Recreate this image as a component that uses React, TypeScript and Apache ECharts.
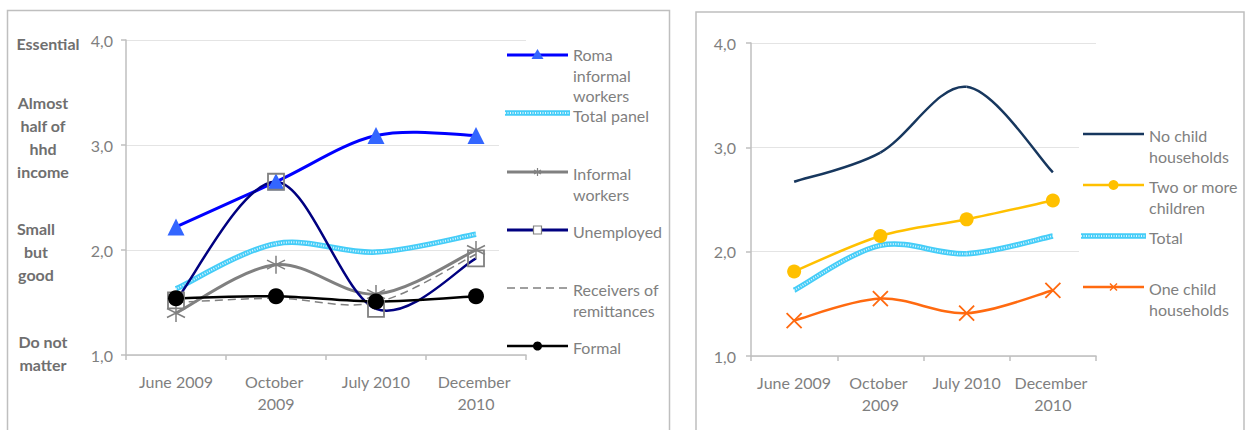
import React, { useEffect, useRef } from "react";
import * as echarts from "echarts";

const CATEGORIES = ["June 2009", "October 2009", "July 2010", "December 2010"];
const Y_MIN = 1;
const Y_MAX = 4;
const Y_STEP = 1;

// Left panel
const ROMA_INFORMAL = [2.22, 2.65, 3.09, 3.09];
const TOTAL_PANEL = [1.63, 2.06, 1.98, 2.15];
const INFORMAL_WORKERS = [1.4, 1.86, 1.58, 2.0];
const UNEMPLOYED = [1.52, 2.65, 1.44, 1.92];
const REMITTANCES = [1.5, 1.54, 1.5, 1.96];
const FORMAL = [1.54, 1.56, 1.51, 1.56];

// Right panel
const NO_CHILD = [2.67, 2.95, 3.58, 2.76];
const TWO_OR_MORE = [1.81, 2.15, 2.31, 2.49];
const TOTAL = [1.63, 2.06, 1.98, 2.15];
const ONE_CHILD = [1.34, 1.55, 1.41, 1.63];

const IMPORTANCE_LABELS = ["Essential", "Almost\nhalf of\nhhd\nincome", "Small\nbut\ngood", "Do not\nmatter"];
const LEFT_LEGEND = ["Roma\ninformal\nworkers", "Total panel", "Informal\nworkers", "Unemployed", "Receivers of\nremittances", "Formal"];
const RIGHT_LEGEND = ["No child\nhouseholds", "Two or more\nchildren", "Total", "One child\nhouseholds"];

const FONT = "Lato";
const TXT = "#7F7F7F";
const AXIS = "#BFBFBF";
const GRIDC = "#E4E4E4";

const C_ROMA = "#0000FF";
const C_ROMA_MK = "#3366FF";
const C_TOTAL = "#45CDF8";
const C_TOTAL_DOT = "#DDF5FE";
const C_GRAY = "#808080";
const C_NAVY = "#000080";
const C_BLACK = "#000000";
const C_NOCHILD = "#17375E";
const C_GOLD = "#FFC000";
const C_ORANGE = "#FF6A10";

const ASTERISK = "path://M8,0L8,16M1,4L15,12M1,12L15,4";
const XMARK = "path://M0,0L16,16M0,16L16,0";

function xAxisCfg(gridIndex: number) {
  return {
    type: "category",
    gridIndex,
    data: CATEGORIES,
    boundaryGap: true,
    axisLine: { lineStyle: { color: AXIS, width: 1.5 } },
    axisTick: { show: true, length: 5, lineStyle: { color: AXIS, width: 1.5 } },
    axisLabel: {
      color: TXT,
      fontFamily: FONT,
      fontSize: 16,
      lineHeight: 22,
      margin: 15,
      interval: 0,
      width: 84,
      overflow: "break",
    },
    splitLine: { show: false },
  };
}

function yAxisCfg(gridIndex: number, margin: number) {
  return {
    type: "value",
    gridIndex,
    min: Y_MIN,
    max: Y_MAX,
    interval: Y_STEP,
    axisLine: { show: true, lineStyle: { color: AXIS, width: 1.5 } },
    axisTick: { show: true, length: 5, lineStyle: { color: AXIS, width: 1.5 } },
    axisLabel: {
      color: TXT,
      fontFamily: FONT,
      fontSize: 16,
      margin,
      formatter: (v: number) => v.toFixed(1).replace(".", ","),
    },
    splitLine: { show: true, lineStyle: { color: GRIDC, width: 1 } },
  };
}

// Excel-like smoothed line (Catmull-Rom -> Bezier), drawn through the axes with api.coord
function curve(name: string, data: number[], axis: number, color: string, width: number, dash?: number[], z = 2) {
  return {
    type: "custom",
    name,
    xAxisIndex: axis,
    yAxisIndex: axis,
    data: data.map((v, i) => [i, v]),
    encode: { x: 0, y: 1 },
    z,
    silent: true,
    renderItem: (params: any, api: any) => {
      const i = params.dataIndex;
      const n = data.length;
      if (i >= n - 1) return null;
      const P = (k: number) => {
        const kk = Math.max(0, Math.min(n - 1, k));
        return api.coord([kk, data[kk]]);
      };
      const p0 = P(i - 1), p1 = P(i), p2 = P(i + 1), p3 = P(i + 2);
      return {
        type: "bezierCurve",
        shape: {
          x1: p1[0], y1: p1[1],
          x2: p2[0], y2: p2[1],
          cpx1: p1[0] + (p2[0] - p0[0]) / 6,
          cpy1: p1[1] + (p2[1] - p0[1]) / 6,
          cpx2: p2[0] - (p3[0] - p1[0]) / 6,
          cpy2: p2[1] - (p3[1] - p1[1]) / 6,
        },
        style: { fill: "none", stroke: color, lineWidth: width, lineDash: dash, lineCap: "butt" },
      };
    },
  };
}

function markers(name: string, data: number[], axis: number, symbol: string, size: number, itemStyle: any, z = 4) {
  return {
    type: "line",
    name,
    data,
    xAxisIndex: axis,
    yAxisIndex: axis,
    symbol,
    symbolSize: size,
    showSymbol: true,
    lineStyle: { width: 0, opacity: 0 },
    itemStyle,
    z,
  };
}

function buildOption() {
  const series: any[] = [
    curve("Roma informal workers", ROMA_INFORMAL, 0, C_ROMA, 3),
    markers("Roma informal workers", ROMA_INFORMAL, 0, "triangle", 17, { color: C_ROMA_MK }),
    curve("Total panel", TOTAL_PANEL, 0, C_TOTAL, 5.5),
    curve("Total panel", TOTAL_PANEL, 0, C_TOTAL_DOT, 2, [1, 1.5]),
    curve("Informal workers", INFORMAL_WORKERS, 0, C_GRAY, 3),
    markers("Informal workers", INFORMAL_WORKERS, 0, ASTERISK, 18, { color: "transparent", borderColor: C_GRAY, borderWidth: 1.5 }),
    curve("Unemployed", UNEMPLOYED, 0, C_NAVY, 2.5),
    markers("Unemployed", UNEMPLOYED, 0, "rect", 16, { color: "transparent", borderColor: C_GRAY, borderWidth: 1.8 }),
    curve("Receivers of remittances", REMITTANCES, 0, C_GRAY, 1.5, [8, 5]),
    curve("Formal", FORMAL, 0, C_BLACK, 2.5, undefined, 3),
    markers("Formal", FORMAL, 0, "circle", 16, { color: C_BLACK }, 5),

    curve("No child households", NO_CHILD, 1, C_NOCHILD, 2.5),
    curve("Two or more children", TWO_OR_MORE, 1, C_GOLD, 2.5),
    markers("Two or more children", TWO_OR_MORE, 1, "circle", 14, { color: C_GOLD }),
    curve("Total", TOTAL, 1, C_TOTAL, 5.5),
    curve("Total", TOTAL, 1, C_TOTAL_DOT, 2, [1, 1.5]),
    curve("One child households", ONE_CHILD, 1, C_ORANGE, 2.5),
    markers("One child households", ONE_CHILD, 1, XMARK, 15, { color: "transparent", borderColor: C_ORANGE, borderWidth: 1.8 }),
  ];

  const g: any[] = [];
  // panel frames
  g.push({ type: "rect", z: 0, shape: { x: 7.5, y: 10.5, width: 662, height: 440 }, style: { fill: "none", stroke: AXIS, lineWidth: 1.5 } });
  g.push({ type: "rect", z: 0, shape: { x: 696, y: 12, width: 548, height: 440 }, style: { fill: "none", stroke: AXIS, lineWidth: 1.5 } });
  // legend backgrounds
  g.push({ type: "rect", z: 1, shape: { x: 499, y: 48, width: 168, height: 302 }, style: { fill: "#fff" } });
  g.push({ type: "rect", z: 1, shape: { x: 1079, y: 100, width: 160, height: 240 }, style: { fill: "#fff" } });

  // importance labels
  const impPos = [
    [48, 31.5],
    [43, 90.5],
    [36, 216.5],
    [43, 329.5],
  ];
  IMPORTANCE_LABELS.forEach((t, i) => {
    g.push({
      type: "text",
      z: 3,
      x: impPos[i][0],
      y: impPos[i][1],
      style: { text: t, fill: "#6F6F6F", font: `bold 16px ${FONT}`, lineHeight: 23, align: "center", verticalAlign: "top" },
    });
  });

  const legText = (x: number, y: number, t: string, lh = 21.5) => ({
    type: "text",
    z: 3,
    x,
    y: y - lh / 2,
    style: { text: t, fill: TXT, font: `16px ${FONT}`, lineHeight: lh, align: "left", verticalAlign: "top" },
  });
  const legLine = (x1: number, x2: number, y: number, stroke: string, w: number, dash?: number[]) => ({
    type: "line",
    z: 3,
    shape: { x1, y1: y, x2, y2: y },
    style: { stroke, lineWidth: w, lineDash: dash },
  });

  // left legend
  const L1 = 507, L2 = 568, LT = 573, LM = 537.5;
  const ly = [55, 113, 172, 230, 288, 346];
  g.push(legLine(L1, L2, ly[0], C_ROMA, 3));
  g.push({ type: "polygon", z: 4, shape: { points: [[LM, ly[0] - 6], [LM + 6, ly[0] + 4], [LM - 6, ly[0] + 4]] }, style: { fill: C_ROMA_MK } });
  g.push(legLine(L1 - 2, L2 + 2, ly[1], C_TOTAL, 5.5));
  g.push(legLine(L1 - 2, L2 + 2, ly[1], C_TOTAL_DOT, 2, [1, 1.5]));
  g.push(legLine(L1, L2, ly[2], C_GRAY, 3));
  g.push({ type: "polyline", z: 4, shape: { points: [[LM, ly[2] - 4], [LM, ly[2] + 4]] }, style: { stroke: C_GRAY, lineWidth: 1.2 } });
  g.push({ type: "polyline", z: 4, shape: { points: [[LM - 3.5, ly[2] - 2], [LM + 3.5, ly[2] + 2]] }, style: { stroke: C_GRAY, lineWidth: 1.2 } });
  g.push({ type: "polyline", z: 4, shape: { points: [[LM - 3.5, ly[2] + 2], [LM + 3.5, ly[2] - 2]] }, style: { stroke: C_GRAY, lineWidth: 1.2 } });
  g.push(legLine(L1, L2, ly[3], C_NAVY, 3));
  g.push({ type: "rect", z: 4, shape: { x: LM - 4, y: ly[3] - 4, width: 8, height: 8 }, style: { fill: "#fff", stroke: C_GRAY, lineWidth: 1.2 } });
  g.push(legLine(L1, L2, ly[4], C_GRAY, 1.5, [8, 5]));
  g.push(legLine(L1, L2, ly[5], C_BLACK, 2.5));
  g.push({ type: "circle", z: 4, shape: { cx: LM, cy: ly[5], r: 4.5 }, style: { fill: C_BLACK } });
  g.push(legText(LT, 54.5, LEFT_LEGEND[0], 20.5));
  g.push(legText(LT, 115.5, LEFT_LEGEND[1], 20.5));
  for (let i = 2; i < LEFT_LEGEND.length; i++) g.push(legText(LT, ly[i] + 1, LEFT_LEGEND[i]));

  // right legend
  const R1 = 1083, R2 = 1144, RT = 1149, RM = 1113.5;
  const ry = [134, 185, 236, 287];
  g.push(legLine(R1, R2, ry[0], C_NOCHILD, 2.5));
  g.push(legLine(R1, R2, ry[1], C_GOLD, 2.5));
  g.push({ type: "circle", z: 4, shape: { cx: RM, cy: ry[1], r: 5 }, style: { fill: C_GOLD } });
  g.push(legLine(R1 - 2, R2 + 2, ry[2], C_TOTAL, 5.5));
  g.push(legLine(R1 - 2, R2 + 2, ry[2], C_TOTAL_DOT, 2, [1, 1.5]));
  g.push(legLine(R1, R2, ry[3], C_ORANGE, 2.5));
  g.push({ type: "polyline", z: 4, shape: { points: [[RM - 3.5, ry[3] - 3.5], [RM + 3.5, ry[3] + 3.5]] }, style: { stroke: C_ORANGE, lineWidth: 1.5 } });
  g.push({ type: "polyline", z: 4, shape: { points: [[RM - 3.5, ry[3] + 3.5], [RM + 3.5, ry[3] - 3.5]] }, style: { stroke: C_ORANGE, lineWidth: 1.5 } });
  RIGHT_LEGEND.forEach((t, i) => g.push(legText(RT, ry[i] + 1, t)));

  return {
    animation: false,
    backgroundColor: "#fff",
    textStyle: { fontFamily: FONT },
    grid: [
      { left: 126, top: 40, width: 400, height: 315, containLabel: false },
      { left: 751, top: 43, width: 345, height: 313, containLabel: false },
    ],
    xAxis: [xAxisCfg(0), xAxisCfg(1)],
    yAxis: [yAxisCfg(0, 13), yAxisCfg(1, 15)],
    series,
    graphic: { elements: g },
  };
}

export default function App() {
  const ref = useRef<HTMLDivElement>(null);
  useEffect(() => {
    document.body.style.margin = "0";
    const chart = echarts.init(ref.current!, null, { renderer: "svg" });
    chart.setOption(buildOption() as any);
    return () => chart.dispose();
  }, []);
  return <div ref={ref} style={{ position: "absolute", left: 0, top: 0, width: 1247, height: 430 }} />;
}
